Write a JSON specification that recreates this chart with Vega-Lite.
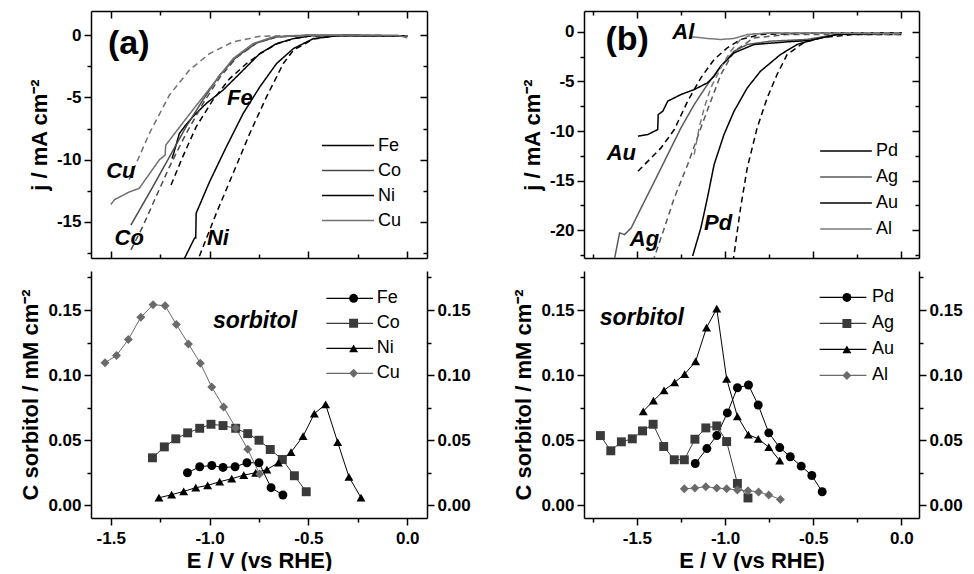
{
"$schema": "https://vega.github.io/schema/vega-lite/v6.json",
"background": "white",
"padding": {"left": 19, "top": 10, "right": 0, "bottom": 0},
"config": {
 "font": "Liberation Sans",
 "view": {"stroke": null},
 "axis": {"labelFont": "Liberation Sans", "labelFontWeight": "bold", "labelFontSize": 17, "labelColor": "#000", "titleFont": "Liberation Sans", "titleFontWeight": "bold", "titleFontSize": 22, "titleColor": "#000", "domainColor": "#000", "domainWidth": 1.5, "tickColor": "#000", "tickWidth": 1.5, "grid": false, "labelPadding": 3, "titlePadding": 5, "labelOverlap": false, "labelFlush": false},
 "legend": {"labelFont": "Liberation Sans", "labelFontSize": 18, "labelColor": "#000", "padding": 0, "rowPadding": 0},
 "text": {"font": "Liberation Sans"}
},
"columns": 2,
"spacing": {"row": 4, "column": 41},
"resolve": {"scale": {"stroke": "independent", "color": "independent", "shape": "independent", "strokeDash": "independent"}, "legend": {"stroke": "independent", "color": "independent", "shape": "independent", "strokeDash": "independent"}},
"concat": [
{
 "width": 336, "height": 247,
 "layer": [
  {
   "data": {"values": [
    {"metal":"Fe","scan":"s","V":-1.19,"j":-9.9},{"metal":"Fe","scan":"s","V":-1.18,"j":-9.4},{"metal":"Fe","scan":"s","V":-1.153,"j":-7.9},{"metal":"Fe","scan":"s","V":-1.12,"j":-7.2},{"metal":"Fe","scan":"s","V":-1.085,"j":-6.55},{"metal":"Fe","scan":"s","V":-1.017,"j":-5.48},{"metal":"Fe","scan":"s","V":-0.932,"j":-4.41},{"metal":"Fe","scan":"s","V":-0.847,"j":-3.07},{"metal":"Fe","scan":"s","V":-0.746,"j":-1.47},{"metal":"Fe","scan":"s","V":-0.661,"j":-0.67},{"metal":"Fe","scan":"s","V":-0.576,"j":-0.27},{"metal":"Fe","scan":"s","V":-0.49,"j":-0.05},{"metal":"Fe","scan":"s","V":-0.3,"j":0},{"metal":"Fe","scan":"s","V":0,"j":-0.05},
    {"metal":"Fe","scan":"d","V":-1.195,"j":-12.04},{"metal":"Fe","scan":"d","V":-1.136,"j":-9.77},{"metal":"Fe","scan":"d","V":-1.068,"j":-7.36},{"metal":"Fe","scan":"d","V":-0.983,"j":-5.2},{"metal":"Fe","scan":"d","V":-0.898,"j":-3.48},{"metal":"Fe","scan":"d","V":-0.813,"j":-2.27},{"metal":"Fe","scan":"d","V":-0.746,"j":-1.5},{"metal":"Fe","scan":"d","V":-0.661,"j":-0.7},{"metal":"Fe","scan":"d","V":-0.576,"j":-0.27},{"metal":"Fe","scan":"d","V":-0.49,"j":-0.05},{"metal":"Fe","scan":"d","V":-0.3,"j":0},{"metal":"Fe","scan":"d","V":0,"j":-0.05},
    {"metal":"Co","scan":"s","V":-1.398,"j":-15.25},{"metal":"Co","scan":"s","V":-1.288,"j":-12.2},{"metal":"Co","scan":"s","V":-1.203,"j":-9.77},{"metal":"Co","scan":"s","V":-1.119,"j":-7.36},{"metal":"Co","scan":"s","V":-1.034,"j":-5.2},{"metal":"Co","scan":"s","V":-0.949,"j":-3.2},{"metal":"Co","scan":"s","V":-0.864,"j":-1.74},{"metal":"Co","scan":"s","V":-0.762,"j":-0.62},{"metal":"Co","scan":"s","V":-0.66,"j":-0.13},{"metal":"Co","scan":"s","V":-0.5,"j":0},{"metal":"Co","scan":"s","V":0,"j":-0.05},
    {"metal":"Co","scan":"d","V":-1.398,"j":-17.25},{"metal":"Co","scan":"d","V":-1.339,"j":-15.4},{"metal":"Co","scan":"d","V":-1.271,"j":-12.98},{"metal":"Co","scan":"d","V":-1.203,"j":-10.57},{"metal":"Co","scan":"d","V":-1.119,"j":-7.9},{"metal":"Co","scan":"d","V":-1.034,"j":-5.5},{"metal":"Co","scan":"d","V":-0.949,"j":-3.4},{"metal":"Co","scan":"d","V":-0.864,"j":-1.8},{"metal":"Co","scan":"d","V":-0.762,"j":-0.62},{"metal":"Co","scan":"d","V":-0.66,"j":-0.13},{"metal":"Co","scan":"d","V":-0.5,"j":0},{"metal":"Co","scan":"d","V":0,"j":-0.05},
    {"metal":"Ni","scan":"s","V":-1.145,"j":-18.5},{"metal":"Ni","scan":"s","V":-1.076,"j":-16.3},{"metal":"Ni","scan":"s","V":-1.07,"j":-16.3},{"metal":"Ni","scan":"s","V":-1.068,"j":-14.3},{"metal":"Ni","scan":"s","V":-1.0,"j":-11.77},{"metal":"Ni","scan":"s","V":-0.915,"j":-8.96},{"metal":"Ni","scan":"s","V":-0.83,"j":-6.28},{"metal":"Ni","scan":"s","V":-0.746,"j":-4.15},{"metal":"Ni","scan":"s","V":-0.661,"j":-2.27},{"metal":"Ni","scan":"s","V":-0.576,"j":-1.07},{"metal":"Ni","scan":"s","V":-0.475,"j":-0.27},{"metal":"Ni","scan":"s","V":-0.35,"j":-0.03},{"metal":"Ni","scan":"s","V":0,"j":-0.05},
    {"metal":"Ni","scan":"d","V":-1.07,"j":-18.5},{"metal":"Ni","scan":"d","V":-0.966,"j":-14.3},{"metal":"Ni","scan":"d","V":-0.881,"j":-11.1},{"metal":"Ni","scan":"d","V":-0.797,"j":-7.9},{"metal":"Ni","scan":"d","V":-0.712,"j":-4.95},{"metal":"Ni","scan":"d","V":-0.627,"j":-2.27},{"metal":"Ni","scan":"d","V":-0.576,"j":-1.2},{"metal":"Ni","scan":"d","V":-0.475,"j":-0.3},{"metal":"Ni","scan":"d","V":-0.35,"j":-0.03},{"metal":"Ni","scan":"d","V":0,"j":-0.05},
    {"metal":"Cu","scan":"s","V":-1.5,"j":-13.6},{"metal":"Cu","scan":"s","V":-1.48,"j":-13.2},{"metal":"Cu","scan":"s","V":-1.407,"j":-12.6},{"metal":"Cu","scan":"s","V":-1.356,"j":-12.3},{"metal":"Cu","scan":"s","V":-1.254,"j":-10.0},{"metal":"Cu","scan":"s","V":-1.225,"j":-9.63},{"metal":"Cu","scan":"s","V":-1.222,"j":-8.83},{"metal":"Cu","scan":"s","V":-1.085,"j":-6.0},{"metal":"Cu","scan":"s","V":-0.966,"j":-3.6},{"metal":"Cu","scan":"s","V":-0.881,"j":-1.87},{"metal":"Cu","scan":"s","V":-0.78,"j":-0.67},{"metal":"Cu","scan":"s","V":-0.678,"j":-0.13},{"metal":"Cu","scan":"s","V":-0.5,"j":0},{"metal":"Cu","scan":"s","V":-0.05,"j":0},{"metal":"Cu","scan":"s","V":0,"j":-0.2},
    {"metal":"Cu","scan":"d","V":-1.407,"j":-11.6},{"metal":"Cu","scan":"d","V":-1.305,"j":-7.9},{"metal":"Cu","scan":"d","V":-1.203,"j":-4.8},{"metal":"Cu","scan":"d","V":-1.102,"j":-2.8},{"metal":"Cu","scan":"d","V":-1.0,"j":-1.47},{"metal":"Cu","scan":"d","V":-0.881,"j":-0.53},{"metal":"Cu","scan":"d","V":-0.746,"j":-0.08},{"metal":"Cu","scan":"d","V":-0.5,"j":0},{"metal":"Cu","scan":"d","V":0,"j":-0.05}
   ]},
   "mark": {"type": "line", "strokeWidth": 1.5, "clip": true},
   "encoding": {
    "x": {"field": "V", "type": "quantitative", "scale": {"domain": [-1.6, 0.1], "nice": false, "zero": false},
      "axis": {"orient": "bottom", "values": [-1.5,-1.25,-1,-0.75,-0.5,-0.25,0], "labels": false, "title": null,
        "tickSize": {"condition": {"test": "abs(datum.value*2-round(datum.value*2))<0.001", "value": -7}, "value": -4}}},
    "y": {"field": "j", "type": "quantitative", "scale": {"domain": [-17.9, 1.95], "nice": false, "zero": false},
      "axis": {"orient": "left", "values": [-17.5,-15,-12.5,-10,-7.5,-5,-2.5,0], "title": "j / mA cm⁻²",
        "labelExpr": "datum.value % 5 === 0 ? '' + datum.value : ''",
        "tickSize": {"condition": {"test": "datum.value % 5 === 0", "value": 7}, "value": 4}}},
    "stroke": {"field": "metal", "type": "nominal", "scale": {"domain": ["Fe","Co","Ni","Cu"], "range": ["#000000","#4a4a4a","#000000","#707070"]},
      "legend": {"orient": "none", "legendX": 230, "legendY": 122, "title": null, "symbolType": "stroke", "symbolSize": 2704, "symbolStrokeWidth": 1.5, "clipHeight": 25, "labelOffset": 3, "labelFontSize": 18}},
    "strokeDash": {"field": "scan", "type": "nominal", "scale": {"domain": ["s","d"], "range": [[1,0],[6,4]]}, "legend": null}
   }
  },
  {
   "data": {"values": [
    {"t":"Fe","V":-0.847,"j":-5.08},{"t":"Cu","V":-1.449,"j":-10.9},{"t":"Co","V":-1.407,"j":-16.3},{"t":"Ni","V":-0.958,"j":-16.3}
   ]},
   "mark": {"type": "text", "fontWeight": "bold", "fontStyle": "italic", "fontSize": 22, "align": "center", "baseline": "middle", "color": "#000"},
   "encoding": {
    "x": {"field": "V", "type": "quantitative", "scale": {"domain": [-1.6, 0.1], "nice": false, "zero": false},
      "axis": {"orient": "top", "values": [-1.5,-1.25,-1,-0.75,-0.5,-0.25,0], "labels": false, "title": null,
        "tickSize": {"condition": {"test": "abs(datum.value*2-round(datum.value*2))<0.001", "value": -7}, "value": -4}}},
    "y": {"field": "j", "type": "quantitative", "scale": {"domain": [-17.9, 1.95], "nice": false, "zero": false},
      "axis": {"orient": "right", "values": [-17.5,-15,-12.5,-10,-7.5,-5,-2.5,0], "labels": false, "title": null,
        "tickSize": {"condition": {"test": "datum.value % 5 === 0", "value": -7}, "value": -4}}},
    "text": {"field": "t"}
   }
  },
  {
   "data": {"values": [{"t":"(a)","V":-1.409,"j":-0.72}]},
   "mark": {"type": "text", "fontWeight": "bold", "fontSize": 34, "align": "center", "baseline": "middle", "color": "#000"},
   "encoding": {
    "x": {"field": "V", "type": "quantitative", "scale": {"domain": [-1.6, 0.1], "nice": false, "zero": false}, "axis": null},
    "y": {"field": "j", "type": "quantitative", "scale": {"domain": [-17.9, 1.95], "nice": false, "zero": false}, "axis": null},
    "text": {"field": "t"}
   }
  }
 ],
 "resolve": {"axis": {"x": "independent", "y": "independent"}}
},
{
 "width": 335, "height": 247,
 "layer": [
  {
   "data": {"values": [
    {"metal":"Pd","scan":"s","V":-1.184,"j":-22.6},{"metal":"Pd","scan":"s","V":-1.137,"j":-19.76},{"metal":"Pd","scan":"s","V":-1.1,"j":-16.74},{"metal":"Pd","scan":"s","V":-1.062,"j":-13.38},{"metal":"Pd","scan":"s","V":-1.006,"j":-10.35},{"metal":"Pd","scan":"s","V":-0.949,"j":-8.0},{"metal":"Pd","scan":"s","V":-0.874,"j":-5.65},{"metal":"Pd","scan":"s","V":-0.799,"j":-3.97},{"metal":"Pd","scan":"s","V":-0.686,"j":-2.29},{"metal":"Pd","scan":"s","V":-0.592,"j":-1.28},{"metal":"Pd","scan":"s","V":-0.461,"j":-0.6},{"metal":"Pd","scan":"s","V":-0.367,"j":-0.27},{"metal":"Pd","scan":"s","V":0,"j":-0.1},
    {"metal":"Pd","scan":"d","V":-0.955,"j":-23.2},{"metal":"Pd","scan":"d","V":-0.912,"j":-17.75},{"metal":"Pd","scan":"d","V":-0.874,"j":-13.71},{"metal":"Pd","scan":"d","V":-0.818,"j":-9.68},{"metal":"Pd","scan":"d","V":-0.761,"j":-6.66},{"metal":"Pd","scan":"d","V":-0.705,"j":-4.3},{"metal":"Pd","scan":"d","V":-0.648,"j":-2.29},{"metal":"Pd","scan":"d","V":-0.555,"j":-1.11},{"metal":"Pd","scan":"d","V":-0.461,"j":-0.6},{"metal":"Pd","scan":"d","V":-0.273,"j":-0.27},{"metal":"Pd","scan":"d","V":0,"j":-0.27},
    {"metal":"Ag","scan":"s","V":-1.64,"j":-23.3},{"metal":"Ag","scan":"s","V":-1.626,"j":-22.79},{"metal":"Ag","scan":"s","V":-1.598,"j":-20.27},{"metal":"Ag","scan":"s","V":-1.57,"j":-20.44},{"metal":"Ag","scan":"s","V":-1.532,"j":-19.76},{"metal":"Ag","scan":"s","V":-1.476,"j":-17.75},{"metal":"Ag","scan":"s","V":-1.4,"j":-15.06},{"metal":"Ag","scan":"s","V":-1.325,"j":-12.37},{"metal":"Ag","scan":"s","V":-1.25,"j":-9.68},{"metal":"Ag","scan":"s","V":-1.175,"j":-7.33},{"metal":"Ag","scan":"s","V":-1.1,"j":-5.31},{"metal":"Ag","scan":"s","V":-1.024,"j":-3.46},{"metal":"Ag","scan":"s","V":-0.949,"j":-1.95},{"metal":"Ag","scan":"s","V":-0.874,"j":-1.28},{"metal":"Ag","scan":"s","V":-0.742,"j":-0.94},{"metal":"Ag","scan":"s","V":-0.536,"j":-0.77},{"metal":"Ag","scan":"s","V":-0.367,"j":-0.27},{"metal":"Ag","scan":"s","V":0,"j":-0.1},
    {"metal":"Ag","scan":"d","V":-1.41,"j":-23.2},{"metal":"Ag","scan":"d","V":-1.344,"j":-19.76},{"metal":"Ag","scan":"d","V":-1.288,"j":-16.74},{"metal":"Ag","scan":"d","V":-1.212,"j":-13.38},{"metal":"Ag","scan":"d","V":-1.137,"j":-9.68},{"metal":"Ag","scan":"d","V":-1.081,"j":-6.99},{"metal":"Ag","scan":"d","V":-1.024,"j":-4.3},{"metal":"Ag","scan":"d","V":-0.949,"j":-1.95},{"metal":"Ag","scan":"d","V":-0.836,"j":-0.61},{"metal":"Ag","scan":"d","V":-0.648,"j":-0.27},{"metal":"Ag","scan":"d","V":0,"j":-0.27},
    {"metal":"Au","scan":"s","V":-1.494,"j":-10.52},{"metal":"Au","scan":"s","V":-1.438,"j":-10.35},{"metal":"Au","scan":"s","V":-1.382,"j":-9.85},{"metal":"Au","scan":"s","V":-1.379,"j":-8.34},{"metal":"Au","scan":"s","V":-1.353,"j":-8.0},{"metal":"Au","scan":"s","V":-1.325,"j":-6.99},{"metal":"Au","scan":"s","V":-1.25,"j":-6.32},{"metal":"Au","scan":"s","V":-1.175,"j":-5.82},{"metal":"Au","scan":"s","V":-1.1,"j":-5.14},{"metal":"Au","scan":"s","V":-1.062,"j":-4.47},{"metal":"Au","scan":"s","V":-1.024,"j":-3.46},{"metal":"Au","scan":"s","V":-0.949,"j":-2.12},{"metal":"Au","scan":"s","V":-0.836,"j":-1.28},{"metal":"Au","scan":"s","V":-0.648,"j":-1.01},{"metal":"Au","scan":"s","V":-0.517,"j":-0.87},{"metal":"Au","scan":"s","V":-0.367,"j":-0.27},{"metal":"Au","scan":"s","V":0,"j":-0.1},
    {"metal":"Au","scan":"d","V":-1.494,"j":-14.05},{"metal":"Au","scan":"d","V":-1.419,"j":-12.71},{"metal":"Au","scan":"d","V":-1.363,"j":-11.7},{"metal":"Au","scan":"d","V":-1.288,"j":-9.85},{"metal":"Au","scan":"d","V":-1.212,"j":-6.99},{"metal":"Au","scan":"d","V":-1.137,"j":-4.64},{"metal":"Au","scan":"d","V":-1.062,"j":-2.79},{"metal":"Au","scan":"d","V":-0.987,"j":-1.61},{"metal":"Au","scan":"d","V":-0.912,"j":-0.77},{"metal":"Au","scan":"d","V":-0.799,"j":-0.27},{"metal":"Au","scan":"d","V":-0.461,"j":-0.1},{"metal":"Au","scan":"d","V":0,"j":-0.1},
    {"metal":"Al","scan":"s","V":-1.2,"j":-0.5},{"metal":"Al","scan":"s","V":-1.165,"j":-0.54},{"metal":"Al","scan":"s","V":-1.1,"j":-0.67},{"metal":"Al","scan":"s","V":-1.024,"j":-0.77},{"metal":"Al","scan":"s","V":-0.949,"j":-0.67},{"metal":"Al","scan":"s","V":-0.874,"j":-0.27},{"metal":"Al","scan":"s","V":-0.742,"j":-0.1},{"metal":"Al","scan":"s","V":0,"j":-0.17},
    {"metal":"Al","scan":"d","V":-1.175,"j":-12.37},{"metal":"Al","scan":"d","V":-1.147,"j":-9.68},{"metal":"Al","scan":"d","V":-1.118,"j":-7.66},{"metal":"Al","scan":"d","V":-1.081,"j":-5.65},{"metal":"Al","scan":"d","V":-1.024,"j":-3.63},{"metal":"Al","scan":"d","V":-0.968,"j":-1.95},{"metal":"Al","scan":"d","V":-0.912,"j":-0.77},{"metal":"Al","scan":"d","V":-0.836,"j":-0.2},{"metal":"Al","scan":"d","V":-0.648,"j":-0.1},{"metal":"Al","scan":"d","V":0,"j":-0.1}
   ]},
   "mark": {"type": "line", "strokeWidth": 1.5, "clip": true},
   "encoding": {
    "x": {"field": "V", "type": "quantitative", "scale": {"domain": [-1.8, 0.1], "nice": false, "zero": false},
      "axis": {"orient": "bottom", "values": [-1.75,-1.5,-1.25,-1,-0.75,-0.5,-0.25,0], "labels": false, "title": null,
        "tickSize": {"condition": {"test": "abs(datum.value*2-round(datum.value*2))<0.001", "value": -7}, "value": -4}}},
    "y": {"field": "j", "type": "quantitative", "scale": {"domain": [-22.8, 2.1], "nice": false, "zero": false},
      "axis": {"orient": "left", "values": [-22.5,-20,-17.5,-15,-12.5,-10,-7.5,-5,-2.5,0], "title": "j / mA cm⁻²",
        "labelExpr": "datum.value % 5 === 0 ? '' + datum.value : ''",
        "tickSize": {"condition": {"test": "datum.value % 5 === 0", "value": 7}, "value": 4}}},
    "stroke": {"field": "metal", "type": "nominal", "scale": {"domain": ["Pd","Ag","Au","Al"], "range": ["#000000","#5a5a5a","#000000","#7a7a7a"]},
      "legend": {"orient": "none", "legendX": 235, "legendY": 127, "title": null, "symbolType": "stroke", "symbolSize": 2673, "symbolStrokeWidth": 1.5, "clipHeight": 26, "labelOffset": 3, "labelFontSize": 18}},
    "strokeDash": {"field": "scan", "type": "nominal", "scale": {"domain": ["s","d"], "range": [[1,0],[6,4]]}, "legend": null}
   }
  },
  {
   "data": {"values": [
    {"t":"Al","V":-1.237,"j":0.0},{"t":"Au","V":-1.588,"j":-12.2},{"t":"Ag","V":-1.457,"j":-20.9},{"t":"Pd","V":-1.039,"j":-19.26}
   ]},
   "mark": {"type": "text", "fontWeight": "bold", "fontStyle": "italic", "fontSize": 22, "align": "center", "baseline": "middle", "color": "#000"},
   "encoding": {
    "x": {"field": "V", "type": "quantitative", "scale": {"domain": [-1.8, 0.1], "nice": false, "zero": false},
      "axis": {"orient": "top", "values": [-1.75,-1.5,-1.25,-1,-0.75,-0.5,-0.25,0], "labels": false, "title": null,
        "tickSize": {"condition": {"test": "abs(datum.value*2-round(datum.value*2))<0.001", "value": -7}, "value": -4}}},
    "y": {"field": "j", "type": "quantitative", "scale": {"domain": [-22.8, 2.1], "nice": false, "zero": false},
      "axis": {"orient": "right", "values": [-22.5,-20,-17.5,-15,-12.5,-10,-7.5,-5,-2.5,0], "labels": false, "title": null,
        "tickSize": {"condition": {"test": "datum.value % 5 === 0", "value": -7}, "value": -4}}},
    "text": {"field": "t"}
   }
  },
  {
   "data": {"values": [{"t":"(b)","V":-1.555,"j":-0.79}]},
   "mark": {"type": "text", "fontWeight": "bold", "fontSize": 34, "align": "center", "baseline": "middle", "color": "#000"},
   "encoding": {
    "x": {"field": "V", "type": "quantitative", "scale": {"domain": [-1.8, 0.1], "nice": false, "zero": false}, "axis": null},
    "y": {"field": "j", "type": "quantitative", "scale": {"domain": [-22.8, 2.1], "nice": false, "zero": false}, "axis": null},
    "text": {"field": "t"}
   }
  }
 ],
 "resolve": {"axis": {"x": "independent", "y": "independent"}}
},
{
 "width": 336, "height": 247,
 "layer": [
  {
   "data": {"name": "bl"},
   "mark": {"type": "line", "strokeWidth": 1},
   "encoding": {
    "x": {"field": "V", "type": "quantitative", "scale": {"domain": [-1.6, 0.1], "nice": false, "zero": false},
      "axis": {"orient": "bottom", "values": [-1.5,-1.25,-1,-0.75,-0.5,-0.25,0], "title": "E / V (vs RHE)", "labelPadding": 5, "titlePadding": 4,
        "labelExpr": "abs(datum.value*2-round(datum.value*2))<0.001 ? replace(format(datum.value,'.1f'),'−','-') : ''",
        "tickSize": {"condition": {"test": "abs(datum.value*2-round(datum.value*2))<0.001", "value": 7}, "value": 4}}},
    "y": {"field": "C", "type": "quantitative", "scale": {"domain": [-0.01, 0.18], "nice": false, "zero": false},
      "axis": {"orient": "left", "values": [0,0.025,0.05,0.075,0.1,0.125,0.15,0.175], "title": "C sorbitol / mM cm⁻²",
        "labelExpr": "abs(datum.value*20-round(datum.value*20))<0.001 ? format(datum.value,'.2f') : ''",
        "tickSize": {"condition": {"test": "abs(datum.value*20-round(datum.value*20))<0.001", "value": 7}, "value": 4}}},
    "stroke": {"field": "metal", "type": "nominal", "sort": ["Fe","Co","Ni","Cu"], "scale": {"range": ["#000000","#3a3a3a","#000000","#6a6a6a"]},
      "legend": {"orient": "none", "legendX": 234.7, "legendY": 14.8, "title": null, "symbolType": "stroke", "symbolSize": 2180, "symbolStrokeWidth": 1.2, "clipHeight": 25, "labelOffset": 3, "labelFontSize": 18}}
   }
  },
  {
   "data": {"name": "bl"},
   "mark": {"type": "point", "filled": true, "size": 80, "opacity": 1},
   "encoding": {
    "x": {"field": "V", "type": "quantitative", "scale": {"domain": [-1.6, 0.1], "nice": false, "zero": false}, "axis": null},
    "y": {"field": "C", "type": "quantitative", "scale": {"domain": [-0.01, 0.18], "nice": false, "zero": false},
      "axis": {"orient": "right", "values": [0,0.025,0.05,0.075,0.1,0.125,0.15,0.175], "title": null,
        "labelExpr": "abs(datum.value*20-round(datum.value*20))<0.001 ? format(datum.value,'.2f') : ''",
        "tickSize": {"condition": {"test": "abs(datum.value*20-round(datum.value*20))<0.001", "value": 7}, "value": 4}}},
    "color": {"field": "m", "type": "nominal", "scale": {"domain": ["Fe","Co","Ni","Cu"], "range": ["#000000","#3a3a3a","#000000","#6a6a6a"]},
      "legend": {"orient": "none", "legendX": 253.6, "legendY": 14.8, "title": null, "clipHeight": 25, "labelExpr": "''", "labelOpacity": 0, "symbolStrokeWidth": 0, "symbolSize": 80}},
    "shape": {"field": "m", "type": "nominal", "scale": {"domain": ["Fe","Co","Ni","Cu"], "range": ["circle","square","triangle-up","diamond"]},
      "legend": {"orient": "none", "legendX": 253.6, "legendY": 14.8, "title": null, "clipHeight": 25, "labelExpr": "''", "labelOpacity": 0, "symbolStrokeWidth": 0, "symbolSize": 80}}
   }
  },
  {
   "data": {"values": [{"t":"sorbitol","V":-0.77,"C":0.1413}]},
   "mark": {"type": "text", "fontWeight": "bold", "fontStyle": "italic", "fontSize": 23, "align": "center", "baseline": "middle", "color": "#000"},
   "encoding": {
    "x": {"field": "V", "type": "quantitative", "scale": {"domain": [-1.6, 0.1], "nice": false, "zero": false}, "axis": null},
    "y": {"field": "C", "type": "quantitative", "scale": {"domain": [-0.01, 0.18], "nice": false, "zero": false}, "axis": null},
    "text": {"field": "t"}
   }
  }
 ],
 "resolve": {"axis": {"x": "independent", "y": "independent"}}
},
{
 "width": 335, "height": 247,
 "layer": [
  {
   "data": {"name": "br"},
   "mark": {"type": "line", "strokeWidth": 1},
   "encoding": {
    "x": {"field": "V", "type": "quantitative", "scale": {"domain": [-1.8, 0.1], "nice": false, "zero": false},
      "axis": {"orient": "bottom", "values": [-1.75,-1.5,-1.25,-1,-0.75,-0.5,-0.25,0], "title": "E / V (vs RHE)", "labelPadding": 5, "titlePadding": 4,
        "labelExpr": "abs(datum.value*2-round(datum.value*2))<0.001 ? replace(format(datum.value,'.1f'),'−','-') : ''",
        "tickSize": {"condition": {"test": "abs(datum.value*2-round(datum.value*2))<0.001", "value": 7}, "value": 4}}},
    "y": {"field": "C", "type": "quantitative", "scale": {"domain": [-0.01, 0.18], "nice": false, "zero": false},
      "axis": {"orient": "left", "values": [0,0.025,0.05,0.075,0.1,0.125,0.15,0.175], "title": "C sorbitol / mM cm⁻²",
        "labelExpr": "abs(datum.value*20-round(datum.value*20))<0.001 ? format(datum.value,'.2f') : ''",
        "tickSize": {"condition": {"test": "abs(datum.value*20-round(datum.value*20))<0.001", "value": 7}, "value": 4}}},
    "stroke": {"field": "metal", "type": "nominal", "sort": ["Pd","Ag","Au","Al"], "scale": {"range": ["#000000","#3a3a3a","#000000","#6a6a6a"]},
      "legend": {"orient": "none", "legendX": 235, "legendY": 13.8, "title": null, "symbolType": "stroke", "symbolSize": 2180, "symbolStrokeWidth": 1.2, "clipHeight": 25.3, "labelOffset": 5, "labelFontSize": 18}}
   }
  },
  {
   "data": {"name": "br"},
   "mark": {"type": "point", "filled": true, "size": 80, "opacity": 1},
   "encoding": {
    "x": {"field": "V", "type": "quantitative", "scale": {"domain": [-1.8, 0.1], "nice": false, "zero": false}, "axis": null},
    "y": {"field": "C", "type": "quantitative", "scale": {"domain": [-0.01, 0.18], "nice": false, "zero": false},
      "axis": {"orient": "right", "values": [0,0.025,0.05,0.075,0.1,0.125,0.15,0.175], "title": null,
        "labelExpr": "abs(datum.value*20-round(datum.value*20))<0.001 ? format(datum.value,'.2f') : ''",
        "tickSize": {"condition": {"test": "abs(datum.value*20-round(datum.value*20))<0.001", "value": 7}, "value": 4}}},
    "color": {"field": "m", "type": "nominal", "scale": {"domain": ["Pd","Ag","Au","Al"], "range": ["#000000","#3a3a3a","#000000","#6a6a6a"]},
      "legend": {"orient": "none", "legendX": 253.9, "legendY": 13.8, "title": null, "clipHeight": 25.3, "labelExpr": "''", "labelOpacity": 0, "symbolStrokeWidth": 0, "symbolSize": 80}},
    "shape": {"field": "m", "type": "nominal", "scale": {"domain": ["Pd","Ag","Au","Al"], "range": ["circle","square","triangle-up","diamond"]},
      "legend": {"orient": "none", "legendX": 253.9, "legendY": 13.8, "title": null, "clipHeight": 25.3, "labelExpr": "''", "labelOpacity": 0, "symbolStrokeWidth": 0, "symbolSize": 80}}
   }
  },
  {
   "data": {"values": [{"t":"sorbitol","V":-1.472,"C":0.1436}]},
   "mark": {"type": "text", "fontWeight": "bold", "fontStyle": "italic", "fontSize": 23, "align": "center", "baseline": "middle", "color": "#000"},
   "encoding": {
    "x": {"field": "V", "type": "quantitative", "scale": {"domain": [-1.8, 0.1], "nice": false, "zero": false}, "axis": null},
    "y": {"field": "C", "type": "quantitative", "scale": {"domain": [-0.01, 0.18], "nice": false, "zero": false}, "axis": null},
    "text": {"field": "t"}
   }
  }
 ],
 "resolve": {"axis": {"x": "independent", "y": "independent"}}
}
],
"datasets": {
 "bl": [
  {"metal":"Fe","m":"Fe","V":-1.112,"C":0.0248},{"metal":"Fe","m":"Fe","V":-1.05,"C":0.0294},{"metal":"Fe","m":"Fe","V":-0.989,"C":0.0304},{"metal":"Fe","m":"Fe","V":-0.932,"C":0.0289},{"metal":"Fe","m":"Fe","V":-0.871,"C":0.0294},{"metal":"Fe","m":"Fe","V":-0.811,"C":0.0325},{"metal":"Fe","m":"Fe","V":-0.75,"C":0.0325},{"metal":"Fe","m":"Fe","V":-0.689,"C":0.0133},{"metal":"Fe","m":"Fe","V":-0.629,"C":0.0077},
  {"metal":"Co","m":"Co","V":-1.289,"C":0.0363},{"metal":"Co","m":"Co","V":-1.229,"C":0.0447},{"metal":"Co","m":"Co","V":-1.171,"C":0.0509},{"metal":"Co","m":"Co","V":-1.111,"C":0.0555},{"metal":"Co","m":"Co","V":-1.05,"C":0.059},{"metal":"Co","m":"Co","V":-0.993,"C":0.0621},{"metal":"Co","m":"Co","V":-0.932,"C":0.0611},{"metal":"Co","m":"Co","V":-0.868,"C":0.059},{"metal":"Co","m":"Co","V":-0.807,"C":0.0549},{"metal":"Co","m":"Co","V":-0.75,"C":0.0498},{"metal":"Co","m":"Co","V":-0.693,"C":0.0427},{"metal":"Co","m":"Co","V":-0.632,"C":0.035},{"metal":"Co","m":"Co","V":-0.571,"C":0.0225},{"metal":"Co","m":"Co","V":-0.511,"C":0.0102},
  {"metal":"Ni","m":"Ni","V":-1.256,"C":0.0056},{"metal":"Ni","m":"Ni","V":-1.192,"C":0.0079},{"metal":"Ni","m":"Ni","V":-1.131,"C":0.0105},{"metal":"Ni","m":"Ni","V":-1.07,"C":0.0133},{"metal":"Ni","m":"Ni","V":-1.01,"C":0.0151},{"metal":"Ni","m":"Ni","V":-0.949,"C":0.0179},{"metal":"Ni","m":"Ni","V":-0.888,"C":0.0202},{"metal":"Ni","m":"Ni","V":-0.827,"C":0.023},{"metal":"Ni","m":"Ni","V":-0.767,"C":0.0248},{"metal":"Ni","m":"Ni","V":-0.71,"C":0.0273},{"metal":"Ni","m":"Ni","V":-0.652,"C":0.0325},{"metal":"Ni","m":"Ni","V":-0.588,"C":0.0406},{"metal":"Ni","m":"Ni","V":-0.527,"C":0.0529},{"metal":"Ni","m":"Ni","V":-0.47,"C":0.0703},{"metal":"Ni","m":"Ni","V":-0.413,"C":0.0774},{"metal":"Ni","m":"Ni","V":-0.352,"C":0.0483},{"metal":"Ni","m":"Ni","V":-0.295,"C":0.0217},{"metal":"Ni","m":"Ni","V":-0.234,"C":0.0056},
  {"metal":"Cu","m":"Cu","V":-1.529,"C":0.1094},{"metal":"Cu","m":"Cu","V":-1.471,"C":0.115},{"metal":"Cu","m":"Cu","V":-1.411,"C":0.1273},{"metal":"Cu","m":"Cu","V":-1.348,"C":0.1444},{"metal":"Cu","m":"Cu","V":-1.286,"C":0.1541},{"metal":"Cu","m":"Cu","V":-1.225,"C":0.1533},{"metal":"Cu","m":"Cu","V":-1.168,"C":0.1388},{"metal":"Cu","m":"Cu","V":-1.107,"C":0.1239},{"metal":"Cu","m":"Cu","V":-1.047,"C":0.1091},{"metal":"Cu","m":"Cu","V":-0.989,"C":0.0907},{"metal":"Cu","m":"Cu","V":-0.929,"C":0.0754},{"metal":"Cu","m":"Cu","V":-0.868,"C":0.0593},{"metal":"Cu","m":"Cu","V":-0.807,"C":0.0429},{"metal":"Cu","m":"Cu","V":-0.747,"C":0.0238}
 ],
 "br": [
  {"metal":"Pd","m":"Pd","V":-1.169,"C":0.0319},{"metal":"Pd","m":"Pd","V":-1.103,"C":0.0434},{"metal":"Pd","m":"Pd","V":-1.047,"C":0.0534},{"metal":"Pd","m":"Pd","V":-0.987,"C":0.0708},{"metal":"Pd","m":"Pd","V":-0.93,"C":0.0902},{"metal":"Pd","m":"Pd","V":-0.867,"C":0.0923},{"metal":"Pd","m":"Pd","V":-0.812,"C":0.0769},{"metal":"Pd","m":"Pd","V":-0.752,"C":0.0555},{"metal":"Pd","m":"Pd","V":-0.69,"C":0.0442},{"metal":"Pd","m":"Pd","V":-0.63,"C":0.0371},{"metal":"Pd","m":"Pd","V":-0.568,"C":0.0299},{"metal":"Pd","m":"Pd","V":-0.508,"C":0.0227},{"metal":"Pd","m":"Pd","V":-0.449,"C":0.0102},
  {"metal":"Ag","m":"Ag","V":-1.707,"C":0.0534},{"metal":"Ag","m":"Ag","V":-1.648,"C":0.0417},{"metal":"Ag","m":"Ag","V":-1.588,"C":0.0486},{"metal":"Ag","m":"Ag","V":-1.526,"C":0.0509},{"metal":"Ag","m":"Ag","V":-1.468,"C":0.057},{"metal":"Ag","m":"Ag","V":-1.408,"C":0.0621},{"metal":"Ag","m":"Ag","V":-1.348,"C":0.045},{"metal":"Ag","m":"Ag","V":-1.288,"C":0.0348},{"metal":"Ag","m":"Ag","V":-1.231,"C":0.0348},{"metal":"Ag","m":"Ag","V":-1.171,"C":0.0506},{"metal":"Ag","m":"Ag","V":-1.109,"C":0.0593},{"metal":"Ag","m":"Ag","V":-1.047,"C":0.0608},{"metal":"Ag","m":"Ag","V":-0.991,"C":0.0488},{"metal":"Ag","m":"Ag","V":-0.93,"C":0.0166},{"metal":"Ag","m":"Ag","V":-0.87,"C":0.0054},
  {"metal":"Au","m":"Au","V":-1.464,"C":0.0721},{"metal":"Au","m":"Au","V":-1.406,"C":0.0802},{"metal":"Au","m":"Au","V":-1.346,"C":0.0882},{"metal":"Au","m":"Au","V":-1.286,"C":0.0943},{"metal":"Au","m":"Au","V":-1.229,"C":0.1007},{"metal":"Au","m":"Au","V":-1.167,"C":0.1104},{"metal":"Au","m":"Au","V":-1.105,"C":0.1365},{"metal":"Au","m":"Au","V":-1.047,"C":0.151},{"metal":"Au","m":"Au","V":-0.991,"C":0.0971},{"metal":"Au","m":"Au","V":-0.93,"C":0.0682},{"metal":"Au","m":"Au","V":-0.868,"C":0.0542},{"metal":"Au","m":"Au","V":-0.812,"C":0.0509},{"metal":"Au","m":"Au","V":-0.752,"C":0.0445},{"metal":"Au","m":"Au","V":-0.69,"C":0.0342},
  {"metal":"Al","m":"Al","V":-1.231,"C":0.0125},{"metal":"Al","m":"Al","V":-1.171,"C":0.013},{"metal":"Al","m":"Al","V":-1.109,"C":0.0141},{"metal":"Al","m":"Al","V":-1.047,"C":0.013},{"metal":"Al","m":"Al","V":-0.991,"C":0.0125},{"metal":"Al","m":"Al","V":-0.93,"C":0.0115},{"metal":"Al","m":"Al","V":-0.87,"C":0.011},{"metal":"Al","m":"Al","V":-0.81,"C":0.01},{"metal":"Al","m":"Al","V":-0.752,"C":0.0077},{"metal":"Al","m":"Al","V":-0.686,"C":0.0043}
 ]
}
}
